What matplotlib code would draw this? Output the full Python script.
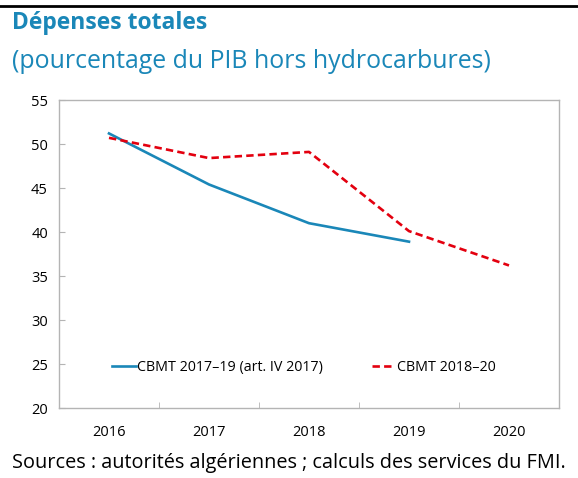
import matplotlib
matplotlib.use('Agg')
from matplotlib import pyplot as plt
from matplotlib.lines import Line2D
from matplotlib.ticker import FixedLocator

plt.rcParams['font.family'] = ['Open Sans', 'DejaVu Sans']

YEARS = ['2016', '2017', '2018', '2019', '2020']
CBMT_2017_19 = [51.2, 45.4, 41.0, 38.9]
CBMT_2018_20 = [50.7, 48.4, 49.1, 40.1, 36.2]

LABEL_2017 = 'CBMT 2017\u201319 (art. IV 2017)'
LABEL_2018 = 'CBMT 2018\u201320'

BLUE = '#1a87b8'
RED = '#e3000f'
GREY = '#b4b4b4'

fig = plt.figure(figsize=(5.78, 4.78), dpi=100)
ax = fig.add_axes([59 / 578, 1 - 408 / 478, 500 / 578, 308 / 478])

x_blue = list(range(len(CBMT_2017_19)))
x_red = list(range(len(CBMT_2018_20)))
ax.plot(x_blue, CBMT_2017_19, color=BLUE, lw=1.9, label=LABEL_2017)
ax.plot(x_red, CBMT_2018_20, color=RED, lw=1.9, dashes=(2.8, 1.6), label=LABEL_2018)

ax.set_xlim(-0.5, len(YEARS) - 0.5)
ax.set_ylim(20, 55)
ax.set_yticks(range(20, 56, 5))
ax.set_xticks(range(len(YEARS)))
ax.set_xticklabels(YEARS)
ax.xaxis.set_minor_locator(FixedLocator([i + 0.5 for i in range(len(YEARS) - 1)]))

for side in ax.spines:
    ax.spines[side].set_color(GREY)
    ax.spines[side].set_linewidth(1.0)
ax.tick_params(axis='x', which='major', length=0, pad=12, labelsize=10.5)
ax.tick_params(axis='x', which='minor', direction='in', length=4, color=GREY)
ax.tick_params(axis='y', direction='in', length=4, color=GREY, labelsize=10.5, pad=8)

ax.legend(loc='center left', bbox_to_anchor=(0.106, 0.133), ncol=2, frameon=False,
          fontsize=10.3, handlelength=1.65, handletextpad=0.12, columnspacing=3.4,
          borderpad=0, borderaxespad=0)

# Top rule and texts
fig.add_artist(Line2D([0, 1], [1 - 6 / 478, 1 - 6 / 478], color='black', lw=2))
fig.text(12 / 578, 1 - 23 / 478, 'Dépenses totales', color=BLUE, fontsize=16.5,
         fontweight='bold', va='center', ha='left')
fig.text(12 / 578, 1 - 62 / 478, '(pourcentage du PIB hors hydrocarbures)', color=BLUE,
         fontsize=17.9, va='center', ha='left')
fig.text(12 / 578, 1 - 463 / 478, 'Sources : autorités algériennes ; calculs des services du FMI.',
         color='black', fontsize=14.3, va='center', ha='left')

fig.savefig('out.png', dpi=100)
